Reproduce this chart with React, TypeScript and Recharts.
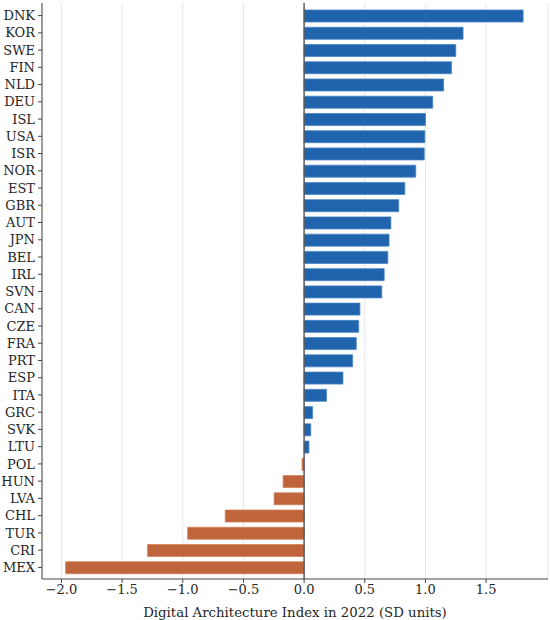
import React from 'react';
import {
  BarChart,
  Bar,
  XAxis,
  YAxis,
  CartesianGrid,
  ReferenceLine,
  Cell,
} from 'recharts';

const countries = [
  'DNK', 'KOR', 'SWE', 'FIN', 'NLD', 'DEU', 'ISL', 'USA', 'ISR', 'NOR', 'EST',
  'GBR', 'AUT', 'JPN', 'BEL', 'IRL', 'SVN', 'CAN', 'CZE', 'FRA', 'PRT', 'ESP',
  'ITA', 'GRC', 'SVK', 'LTU', 'POL', 'HUN', 'LVA', 'CHL', 'TUR', 'CRI', 'MEX',
];

const indexValues = [
  1.805, 1.31, 1.25, 1.215, 1.15, 1.06, 1.0, 0.995, 0.99, 0.92, 0.83,
  0.78, 0.715, 0.7, 0.69, 0.66, 0.64, 0.46, 0.45, 0.43, 0.4, 0.32,
  0.185, 0.07, 0.055, 0.04, -0.017, -0.173, -0.247, -0.65, -0.96, -1.29, -1.965,
];

const xTicks = [-2, -1.5, -1, -0.5, 0, 0.5, 1, 1.5];

const BLUE = '#2064ad';
const ORANGE = '#c0643b';
const FONT = '"DejaVu Serif", serif';

const data = countries.map((c, i) => ({ country: c, value: indexValues[i] }));

const fmt = (v: number) => v.toFixed(1).replace('-', '\u2212');

export default function App() {
  return (
    <div style={{ position: 'absolute', left: 0, top: 0, background: '#fff' }}>
      <BarChart
        width={550}
        height={620}
        data={data}
        layout="vertical"
        margin={{ top: 3, right: 2, left: 0, bottom: 0 }}
      >
        <CartesianGrid horizontal={false} stroke="#e6e6e6" strokeWidth={1} />
        <XAxis
          type="number"
          dataKey="value"
          domain={[-2.16, 2.01]}
          ticks={xTicks}
          tickFormatter={fmt}
          allowDataOverflow
          height={41}
          stroke="#444"
          tickSize={4}
          tickMargin={2}
          tick={{ fontSize: 13, fontFamily: FONT, fill: '#262626' }}
          label={{
            value: 'Digital Architecture Index in 2022 (SD units)',
            position: 'insideBottom',
            offset: 3,
            style: { fontSize: 13.3, fontFamily: FONT, fill: '#262626' },
          }}
        />
        <YAxis
          type="category"
          dataKey="country"
          width={42}
          interval={0}
          stroke="#444"
          tickSize={4}
          tickMargin={3}
          padding={{ top: 4, bottom: 3 }}
          tick={{ fontSize: 13, fontFamily: FONT, fill: '#262626' }}
        />
        <ReferenceLine x={0} stroke="#555" strokeWidth={1.4} />
        <Bar dataKey="value" barSize={12} isAnimationActive={false} strokeWidth={0.8}>
          {data.map((d) => (
            <Cell
              key={d.country}
              fill={d.value >= 0 ? BLUE : ORANGE}
              stroke={d.value >= 0 ? '#4a85c4' : '#d0825f'}
            />
          ))}
        </Bar>
      </BarChart>
    </div>
  );
}
